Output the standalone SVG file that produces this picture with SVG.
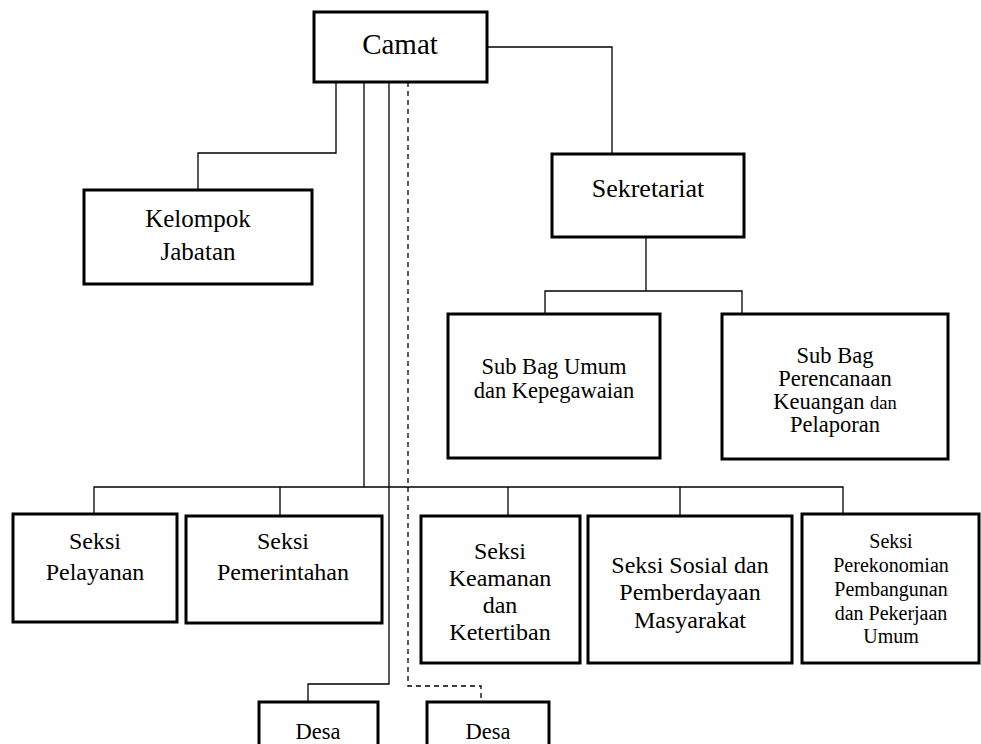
<svg xmlns="http://www.w3.org/2000/svg" width="981" height="744" viewBox="0 0 981 744">
<style>
.box{fill:#fff;stroke:#000;stroke-width:3}
.ln{fill:none;stroke:#000;stroke-width:1.3}
.dash{fill:none;stroke:#000;stroke-width:1.3;stroke-dasharray:5 4}
text{font-family:"Liberation Serif","Times New Roman",serif;fill:#000;text-anchor:middle}
.t24{font-size:24px}
.t23{font-size:22.5px}
.t21{font-size:20px}
</style>
<rect width="981" height="744" fill="#fff"/>
<g id="connectors">
<polyline class="ln" points="487,47 612,47 612,154"/>
<polyline class="ln" points="336,82 336,153 198,153 198,190"/>
<polyline class="ln" points="646,237 646,291"/>
<polyline class="ln" points="545,314 545,291 742,291 742,314"/>
<polyline class="ln" points="364,82 364,487"/>
<polyline class="ln" points="94,514 94,487 843,487 843,514"/>
<line class="ln" x1="280" y1="487" x2="280" y2="516"/>
<line class="ln" x1="508" y1="487" x2="508" y2="516"/>
<line class="ln" x1="680" y1="487" x2="680" y2="516"/>
<polyline class="ln" points="389,82 389,684 308,684 308,702"/>
<polyline class="dash" points="408,82 408,686 481,686 481,702"/>
</g>
<g id="camat"><rect class="box" x="314" y="12" width="173" height="70"/><text x="400" y="54" style="font-size:29px">Camat</text></g>
<g id="kelompok"><rect class="box" x="84" y="190" width="228" height="94"/><text x="198" y="227" style="font-size:25px">Kelompok</text><text x="198" y="260" style="font-size:25px">Jabatan</text></g>
<g id="sekretariat"><rect class="box" x="552" y="154" width="192" height="83"/><text x="648" y="197" style="font-size:26px">Sekretariat</text></g>
<g id="subbag-umum"><rect class="box" x="448" y="314" width="212" height="144"/><text class="t23" x="554" y="374">Sub Bag Umum</text><text class="t23" x="554" y="398">dan Kepegawaian</text></g>
<g id="subbag-perencanaan"><rect class="box" x="722" y="314" width="226" height="145"/><text class="t23" x="835" y="363">Sub Bag</text><text class="t23" x="835" y="386">Perencanaan</text><text class="t23" x="835" y="409">Keuangan <tspan style="font-size:18.5px">dan</tspan></text><text class="t23" x="835" y="432">Pelaporan</text></g>
<g id="seksi-pelayanan"><rect class="box" x="13" y="514" width="164" height="108"/><text class="t24" x="95" y="549">Seksi</text><text class="t24" x="95" y="580">Pelayanan</text></g>
<g id="seksi-pemerintahan"><rect class="box" x="186" y="516" width="196" height="107"/><text class="t24" x="283" y="549">Seksi</text><text class="t24" x="283" y="580">Pemerintahan</text></g>
<g id="seksi-keamanan"><rect class="box" x="421" y="516" width="159" height="147"/><text class="t24" x="500" y="559">Seksi</text><text class="t24" x="500" y="586">Keamanan</text><text class="t24" x="500" y="613">dan</text><text class="t24" x="500" y="640">Ketertiban</text></g>
<g id="seksi-sosial"><rect class="box" x="588" y="516" width="204" height="147"/><text class="t24" x="690" y="573">Seksi Sosial dan</text><text class="t24" x="690" y="600">Pemberdayaan</text><text class="t24" x="690" y="628">Masyarakat</text></g>
<g id="seksi-perekonomian"><rect class="box" x="802" y="514" width="177" height="149"/><text class="t21" x="891" y="548">Seksi</text><text class="t21" x="891" y="572">Perekonomian</text><text class="t21" x="891" y="596">Pembangunan</text><text class="t21" x="891" y="620">dan Pekerjaan</text><text class="t21" x="891" y="643">Umum</text></g>
<g id="desa-1"><rect class="box" x="259" y="702" width="119" height="60"/><text class="t23" x="318" y="739">Desa</text></g>
<g id="desa-2"><rect class="box" x="427" y="702" width="122" height="60"/><text class="t23" x="488" y="739">Desa</text></g>
</svg>
